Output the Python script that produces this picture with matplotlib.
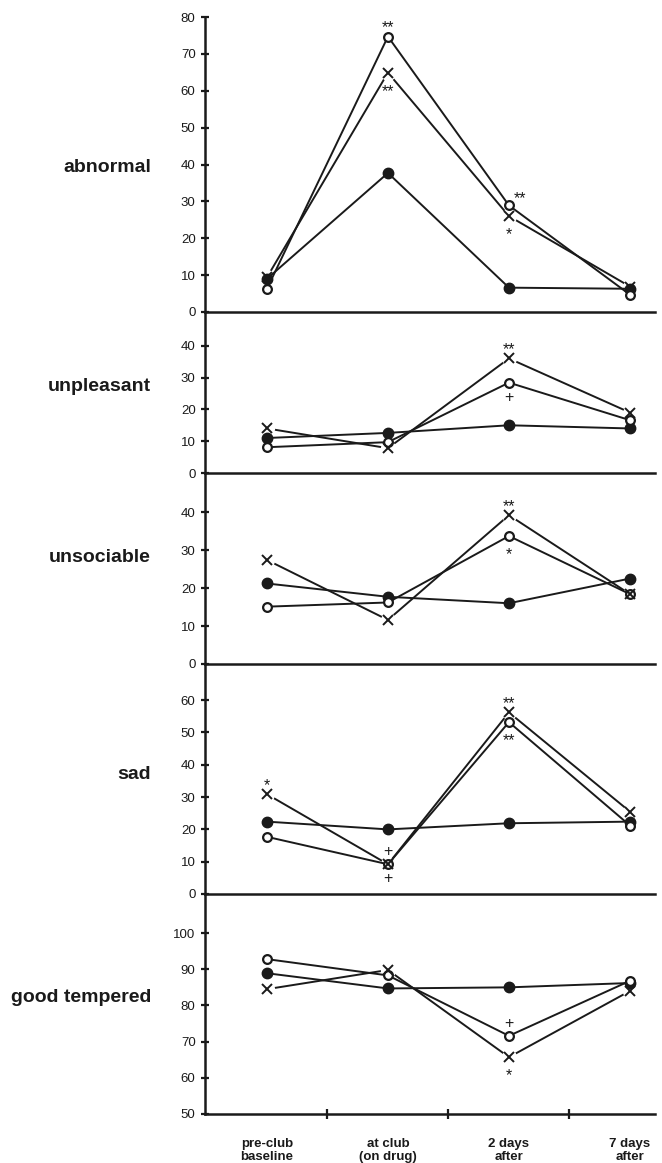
import matplotlib
matplotlib.use("Agg")
import matplotlib.pyplot as plt

plt.rcParams['font.family'] = ['Liberation Sans', 'DejaVu Sans']

INK = '#1a1a1a'

# time points along the x axis
categories = ['pre-club\nbaseline', 'at club\n(on drug)', '2 days\nafter', '7 days\nafter']
moods = ['abnormal', 'unpleasant', 'unsociable', 'sad', 'good tempered']

# three groups: filled circles, open circles, crosses
abnormal_filled = [9, 37.7, 6.6, 6.3]
abnormal_open = [6.3, 74.7, 28.9, 4.7]
abnormal_cross = [9.4, 64.9, 26, 6.9]

unpleasant_filled = [11, 12.6, 15, 14]
unpleasant_open = [8.1, 9.7, 28.4, 16.6]
unpleasant_cross = [14, 7.8, 36, 19]

unsociable_filled = [21.2, 17.7, 16, 22.5]
unsociable_open = [15.1, 16.2, 33.7, 18.4]
unsociable_cross = [27.4, 11.6, 39.2, 18.4]

sad_filled = [22.4, 20, 21.9, 22.4]
sad_open = [17.7, 9.2, 53.2, 21.2]
sad_cross = [30.9, 9.2, 56.2, 25.5]

good_filled = [88.9, 84.7, 85, 86.2]
good_open = [92.8, 88.3, 71.6, 86.8]
good_cross = [84.5, 89.8, 65.7, 84]

filled = [abnormal_filled, unpleasant_filled, unsociable_filled, sad_filled, good_filled]
opened = [abnormal_open, unpleasant_open, unsociable_open, sad_open, good_open]
cross = [abnormal_cross, unpleasant_cross, unsociable_cross, sad_cross, good_cross]

yticks = [list(range(0, 81, 10)), list(range(0, 41, 10)), list(range(0, 41, 10)),
          list(range(0, 61, 10)), list(range(50, 101, 10))]
ylims = [(0, 80), (0, 50.6), (0, 50.3), (0, 71.2), (50, 110.8)]

# significance marks: panel, series, time point, mark, where
notes = [
    (0, 'open', 1, '**', 'above'),
    (0, 'cross', 1, '**', 'below'),
    (0, 'open', 2, '**', 'upper right'),
    (0, 'cross', 2, '*', 'below'),
    (1, 'cross', 2, '**', 'above'),
    (1, 'open', 2, '+', 'below'),
    (2, 'cross', 2, '**', 'above'),
    (2, 'open', 2, '*', 'below'),
    (3, 'cross', 0, '*', 'above'),
    (3, 'open', 1, '+', 'above'),
    (3, 'open', 1, '+', 'below'),
    (3, 'cross', 2, '**', 'above'),
    (3, 'open', 2, '**', 'below'),
    (4, 'open', 2, '+', 'above'),
    (4, 'cross', 2, '*', 'below'),
]

fig = plt.figure(figsize=(6.62, 11.63), dpi=100)

H = 1163.0
W = 662.0
left = 205 / W
width = 450 / W
# (top, bottom) in pixels for each panel
bands = [(17, 312), (312, 473), (473, 664), (664, 894), (894, 1114)]
label_frac = [0.49, 0.54, 0.56, 0.52, 0.53]

x = list(range(len(categories)))
axes = []
for i, (top, bot) in enumerate(bands):
    ax = fig.add_axes([left, 1 - bot / H, width, (bot - top) / H])
    ax.patch.set_visible(False)
    axes.append(ax)
    ax.set_xlim(-0.512, 3.207)
    ax.set_ylim(*ylims[i])
    for s in ['top', 'right']:
        ax.spines[s].set_visible(False)
    for s in ['left', 'bottom']:
        ax.spines[s].set_linewidth(1.8)
        ax.spines[s].set_color(INK)
    ax.set_yticks(yticks[i])
    ax.tick_params(axis='y', direction='inout', length=5.5, width=1.6, color=INK,
                   labelsize=9.5, labelcolor=INK, pad=4)

    # crosses: line first, white halo so the line stops short of the mark
    ax.plot(x, cross[i], color=INK, lw=1.4, zorder=1)
    ax.plot(x, cross[i], ls='none', marker='o', ms=11, mfc='white', mec='none', zorder=1.5)
    ax.plot(x, filled[i], color=INK, lw=1.4, marker='o', ms=7.5, mfc=INK, mec=INK, zorder=2)
    ax.plot(x, opened[i], color=INK, lw=1.4, marker='o', ms=6.3, mfc='white', mec=INK,
            mew=1.6, zorder=2.5)
    ax.plot(x, cross[i], ls='none', marker='x', ms=7, mec=INK, mew=1.4, zorder=3)

    ax.text(-0.12, label_frac[i], moods[i], transform=ax.transAxes, ha='right',
            va='center', fontsize=14, fontweight='bold', color=INK)

    if i < len(bands) - 1:
        ax.tick_params(axis='x', which='both', bottom=False, labelbottom=False)
    else:
        ax.set_xticks([0.5, 1.5, 2.5])
        ax.set_xticklabels([])
        ax.set_xticks(x, categories, minor=True)
        ax.tick_params(axis='x', which='major', direction='inout', length=7, width=1.6,
                       color=INK)
        ax.tick_params(axis='x', which='minor', length=0, pad=17, labelsize=9.5)
        for t in ax.get_xticklabels(minor=True):
            t.set_fontweight('bold')
            t.set_color(INK)

series = {'filled': filled, 'open': opened, 'cross': cross}
PX = 0.72  # points per pixel at 100 dpi
for panel, name, k, mark, where in notes:
    ax = axes[panel]
    yv = series[name][panel][k]
    # pixel offset of the glyph centre from the point
    dx, dy = {'above': (0, 13), 'below': (0, -14), 'upper right': (11, 11)}[where]
    centre = 9 if '*' in mark else 5
    ax.annotate(mark, (k, yv), xytext=(dx * PX, (dy - centre) * PX),
                textcoords='offset points', ha='center', va='baseline',
                fontsize=11.5, color=INK, zorder=4)

fig.savefig('out.png', dpi=100)
